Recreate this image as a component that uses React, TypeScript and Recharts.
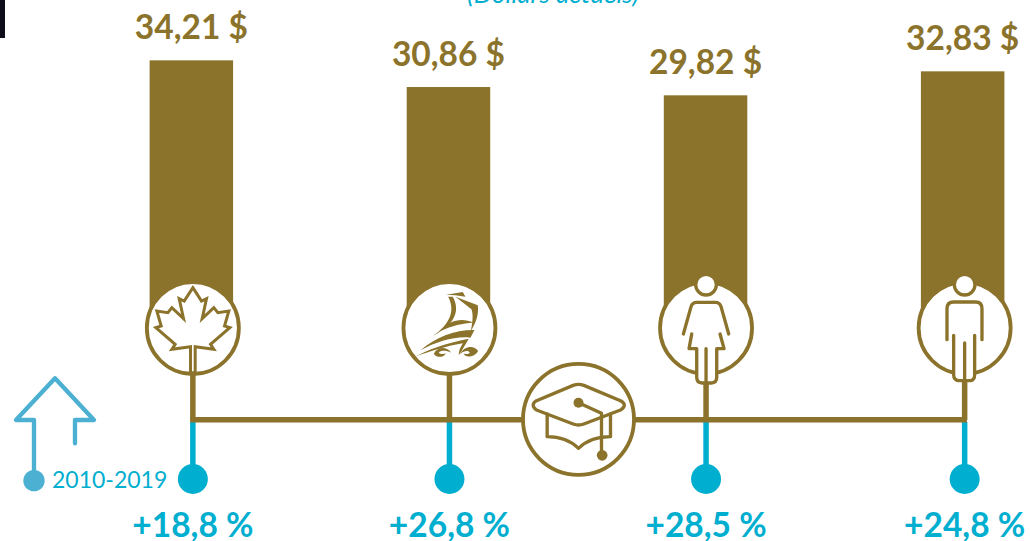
import { BarChart, Bar, XAxis, YAxis, LabelList, ReferenceLine } from 'recharts';

const categories = ['canada', 'quebec', 'femmes', 'hommes'];
const salaries = [34.21, 30.86, 29.82, 32.83];
const growth = ['+18,8 %', '+26,8 %', '+28,5 %', '+24,8 %'];

const tableData = categories.map((name, i) => ({ name, salary: salaries[i], growth: growth[i] }));

const BROWN = '#8B732C';
const TEAL = '#00AECF';
const ARROW = '#4BB0D2';
const FONT = 'Lato, sans-serif';

// the icons sit a little right of the bar centres in the source
const iconNudge = [1.5, 1, 0.5, 2];

const stroke = { fill: 'none', stroke: BROWN, strokeLinecap: 'round' as const, strokeLinejoin: 'round' as const };

function MapleLeaf() {
  return (
    <g transform="scale(0.3333) translate(-577,-176)">
      <path
        d="M577,55 L603,95 L618,88 L605,148 L640,115 L652,130 L685,125 L672,170 L688,175 L630,225 L640,240 L584,232 L584,310 L570,310 L570,232 L514,240 L524,225 L466,175 L482,170 L469,125 L502,130 L514,115 L549,148 L536,88 L551,95 Z"
        fill="#fff"
        stroke={BROWN}
        strokeWidth={9}
        strokeLinejoin="miter"
      />
    </g>
  );
}

function Ship() {
  return (
    <g transform="scale(0.3333) translate(-132,-138)" fill={BROWN}>
      <path d="M122,38 L172,30 L180,44 L150,40 Z" />
      <path d="M128,44 C150,85 135,125 82,162 C152,124 164,85 142,44 Z" />
      <path d="M105,147 C130,114 170,106 204,122 C172,124 140,130 105,147 Z" />
      <path d="M150,44 L217,70 C221,100 210,125 196,148 C203,115 203,95 198,82 Z" />
      <path d="M45,205 C90,165 150,143 207,144 L195,167 C150,162 95,178 45,205 Z" />
      <path d="M28,224 C70,203 120,183 190,170 L168,208 L160,220 C160,200 170,190 172,184 C120,192 70,210 28,224 Z" />
      <path d="M85,215 C95,193 125,193 137,212 C122,204 105,204 100,212 C108,219 118,216 121,212 C116,230 90,226 85,215 Z" />
      <path d="M218,207 C205,188 175,193 164,216 C178,204 190,206 193,212 C186,219 176,216 174,213 C178,230 208,226 218,207 Z" />
    </g>
  );
}

function Woman() {
  return (
    <g transform="scale(0.3333) translate(-198,-200)">
      <path d="M130,218 L153,136 Q157,123 170,123 L226,123 Q239,123 243,136 L266,218" {...stroke} strokeWidth={10} />
      <path
        d="M155,218 L147,262 L170,262 L170,348 Q170,365 186,365 L214,365 Q230,365 230,348 L230,262 L252,262 L240,218"
        fill="#fff"
        stroke={BROWN}
        strokeWidth={10}
        strokeLinecap="round"
        strokeLinejoin="round"
      />
      <path d="M198,262 L198,365" {...stroke} strokeWidth={10} />
      <circle cx={198} cy={70} r={31} fill="#fff" stroke={BROWN} strokeWidth={10} />
    </g>
  );
}

function Man() {
  return (
    <g transform="scale(0.3333) translate(-975,-200)">
      <path d="M922,235 L922,142 Q922,122 942,122 L1008,122 Q1027,122 1027,142 L1027,235" {...stroke} strokeWidth={10} />
      <path
        d="M942,222 L942,340 Q942,358 960,358 L990,358 Q1005,358 1005,340 L1005,222"
        fill="#fff"
        stroke={BROWN}
        strokeWidth={10}
        strokeLinecap="round"
        strokeLinejoin="round"
      />
      <path d="M975,245 L975,358" {...stroke} strokeWidth={10} />
      <circle cx={975} cy={70} r={31} fill="#fff" stroke={BROWN} strokeWidth={10} />
    </g>
  );
}

const icons = [MapleLeaf, Ship, Woman, Man];

function GradCap({ x, y }: { x: number; y: number }) {
  return (
    <g transform={`translate(${x},${y})`}>
      <circle r={55.5} fill="#fff" stroke={BROWN} strokeWidth={3.8} />
      <g transform="scale(0.3333) translate(-596,-448)">
        <path
          d="M580,346 Q596,340 612,346 L722,392 Q745,405 722,420 L612,462 Q596,468 580,462 L470,420 Q450,405 470,392 Z"
          {...stroke}
          strokeWidth={10}
        />
        <path d="M502,432 L502,500 Q560,500 596,535 Q632,500 692,500 L692,432" {...stroke} strokeWidth={10} />
        <path d="M596,398 L665,430 L665,555" {...stroke} strokeWidth={10} />
        <circle cx={596} cy={398} r={15} fill={BROWN} />
        <circle cx={667} cy={556} r={16} fill={BROWN} />
      </g>
    </g>
  );
}

// horizontal link between the four columns, with the cap badge in the middle
function Connector(props: any) {
  const { x1, x2, y1 } = lineEnds(props);
  return (
    <g>
      <line x1={x1 - 1} x2={x2 + 4.5} y1={y1} y2={y1} stroke={BROWN} strokeWidth={5.5} />
      <GradCap x={(x1 + x2) / 2 + 1.7} y={y1 - 0.5} />
    </g>
  );
}

function lineEnds(props: any) {
  if (props.x1 !== undefined) return { x1: props.x1, x2: props.x2, y1: props.y1 };
  return { x1: 0, x2: 0, y1: 0 };
}

function ColumnMark(props: any) {
  const { x, y, width, height, index, payload } = props;
  const base = y + height;
  const cx = x + width / 2 + iconNudge[index];
  const cy = base - 5;
  const Icon = icons[index];
  return (
    <g>
      <rect x={x} y={y} width={width} height={height} fill={BROWN} />
      <line x1={cx} x2={cx} y1={cy} y2={base + 87} stroke={BROWN} strokeWidth={5.5} />
      <line x1={cx} x2={cx} y1={base + 89} y2={base + 140} stroke={TEAL} strokeWidth={5.5} />
      <circle cx={cx} cy={base + 146} r={15} fill={TEAL} />
      <circle cx={cx} cy={cy} r={46} fill="#fff" stroke={BROWN} strokeWidth={3.8} />
      <g transform={`translate(${cx},${cy})`}>
        <Icon />
      </g>
      <text
        x={cx}
        y={base + 204}
        textAnchor="middle"
        fontFamily={FONT}
        fontWeight={700}
        fontSize={33.5}
        fill={TEAL}
      >
        {payload.growth}
      </text>
    </g>
  );
}

export default function App() {
  return (
    <div style={{ position: 'absolute', left: 0, top: 0, width: 1030, height: 541, overflow: 'hidden', background: '#fff' }}>
      <BarChart
        width={1030}
        height={541}
        data={tableData}
        margin={{ top: 0, right: -61, bottom: 0, left: 62.6 }}
        barSize={83.5}
      >
        <XAxis dataKey="name" hide />
        <YAxis hide domain={[-26.1, 41.78]} />
        <Bar dataKey="salary" isAnimationActive={false} shape={<ColumnMark />}>
          <LabelList
            dataKey="salary"
            position="top"
            offset={21}
            formatter={(v: any) => `${Number(v).toFixed(2).replace('.', ',')} $`}
            fontFamily={FONT}
            fontWeight={700}
            fontSize={33.5}
            fill={BROWN}
          />
        </Bar>
        <ReferenceLine
          segment={[
            { x: categories[0], y: -10.9 },
            { x: categories[3], y: -10.9 },
          ]}
          shape={<Connector />}
        />
        <text x={553} y={3} textAnchor="middle" fontFamily={FONT} fontStyle="italic" fontSize={26} fill={TEAL}>
          (Dollars actuels)
        </text>
        <rect x={0} y={0} width={5} height={38} fill="#0D0D1A" />
        <g transform="translate(0,270) scale(0.3333)">
          <path
            d="M102,632 L102,450 L48,450 L165,325 L282,450 L225,450 L225,520"
            fill="none"
            stroke={ARROW}
            strokeWidth={13}
            strokeLinecap="round"
            strokeLinejoin="round"
          />
          <circle cx={102} cy={632} r={32} fill={ARROW} />
        </g>
        <text x={52} y={488} fontFamily={FONT} fontSize={23} fill={TEAL}>
          2010-2019
        </text>
      </BarChart>
    </div>
  );
}
